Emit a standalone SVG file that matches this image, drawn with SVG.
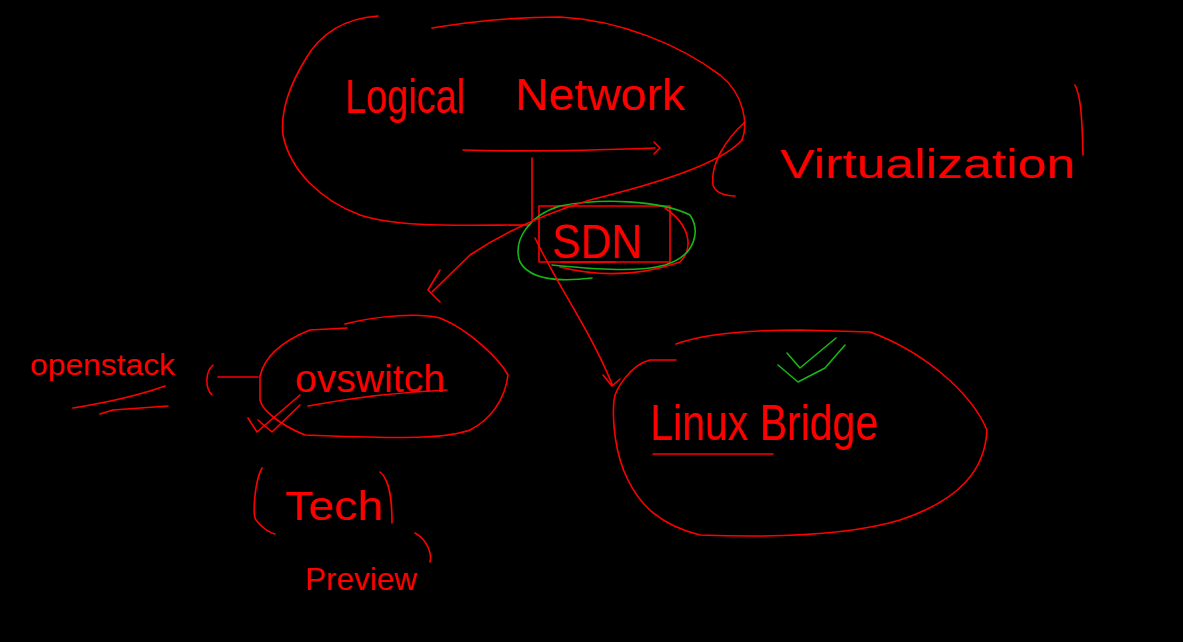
<svg xmlns="http://www.w3.org/2000/svg" width="1183" height="642" viewBox="0 0 1183 642">
<style>
.s{fill:none;stroke:#ff0000;stroke-width:1.6;stroke-linecap:round;stroke-linejoin:round}
.g{fill:none;stroke:#17b517;stroke-width:1.6;stroke-linecap:round;stroke-linejoin:round}
.t{fill:#ff0000;font-family:"Liberation Sans","DejaVu Sans",sans-serif;font-weight:normal}
</style>
<rect width="1183" height="642" fill="#000"/>
<g id="logical-network">
<path class="s" d="M378,16 C350,18 322,30 305,60 C290,85 280,110 283,135 C290,170 320,200 360,215 C400,228 460,225 530,225"/>
<path class="s" d="M432,28 C480,20 530,17 560,17 C620,20 680,45 720,75 C745,95 748,125 742,140"/>
<text class="t" x="345" y="113" font-size="48" textLength="120" lengthAdjust="spacingAndGlyphs">Logical</text>
<text class="t" x="515" y="110" font-size="44" textLength="170" lengthAdjust="spacingAndGlyphs">Network</text>
</g>
<g id="virtualization">
<path class="s" d="M745,122 C725,140 710,165 713,185 C716,195 730,196 735,196"/>
<text class="t" x="780" y="178" font-size="40" textLength="295" lengthAdjust="spacingAndGlyphs">Virtualization</text>
<path class="s" d="M1075,85 C1080,95 1082,110 1083,155"/>
</g>
<g id="sdn">
<rect class="s" x="539" y="206" width="131" height="56"/>
<text class="t" x="552" y="258" font-size="48" textLength="90" lengthAdjust="spacingAndGlyphs">SDN</text>
<path class="s" d="M561,262 L615,262"/>
<path class="s" d="M560,267 C600,277 640,276 680,262 C694,248 690,225 665,208"/>
<path class="g" d="M592,278 C560,282 530,280 520,262 C512,240 530,215 560,206 C600,198 660,200 690,215 C700,230 697,255 665,265 C640,272 600,270 552,265"/>
</g>
<g id="ovswitch">
<path class="s" d="M345,324 C380,315 420,313 440,318 C470,330 500,360 508,375 C505,400 490,420 470,430 C450,437 420,440 305,435 C280,425 262,410 260,400 L260,376 C265,355 285,340 310,330 L347,328"/>
<text class="t" x="295" y="392" font-size="38" textLength="150" lengthAdjust="spacingAndGlyphs">ovswitch</text>
<path class="s" d="M308,406 C350,398 400,392 447,390"/>
<path class="s" d="M248,418 L257,432 L300,395 M258,420 L272,432 L300,405"/>
</g>
<g id="openstack">
<text class="t" x="30" y="375" font-size="30" textLength="145" lengthAdjust="spacingAndGlyphs">openstack</text>
<path class="s" d="M73,408 C110,402 140,395 165,386 M100,414 L113,410 L168,406"/>
</g>
<g id="tech-preview">
<path class="s" d="M262,468 C255,480 252,515 256,520 C262,528 270,533 275,534"/>
<text class="t" x="285" y="520" font-size="40" textLength="98" lengthAdjust="spacingAndGlyphs">Tech</text>
<path class="s" d="M380,472 C390,480 392,500 392,523"/>
<text class="t" x="305" y="590" font-size="32" textLength="112" lengthAdjust="spacingAndGlyphs">Preview</text>
<path class="s" d="M415,533 C428,540 432,555 430,562"/>
</g>
<g id="linux-bridge">
<path class="s" d="M676,344 C700,335 740,330 800,330 L870,332 C920,350 970,390 987,430 C985,470 960,500 900,520 C850,535 780,538 700,535 C660,525 640,505 628,480 C615,455 612,420 614,400 C615,390 630,365 650,360 L676,360"/>
<text class="t" x="650" y="440" font-size="50" textLength="228" lengthAdjust="spacingAndGlyphs">Linux Bridge</text>
<path class="s" d="M653,454 L773,454"/>
<path class="g" d="M787,353 L800,368 L836,338 M778,365 L798,382 L825,368 L845,345"/>
</g>
<g id="connectors">
<path class="s" d="M463,150 C520,152 600,150 655,148 M654,142 L660,148 L654,154"/>
<path class="s" d="M532,158 L532,220"/>
<path class="s" d="M742,140 C720,165 650,185 590,200 C540,215 500,235 470,255 L432,292"/>
<path class="s" d="M440,270 L428,290 L440,302"/>
<path class="s" d="M535,238 C560,290 590,330 612,384 M603,375 L612,386 L620,379"/>
<path class="s" d="M258,377 L218,377 M213,365 C205,372 205,388 212,395"/>
</g>
</svg>
